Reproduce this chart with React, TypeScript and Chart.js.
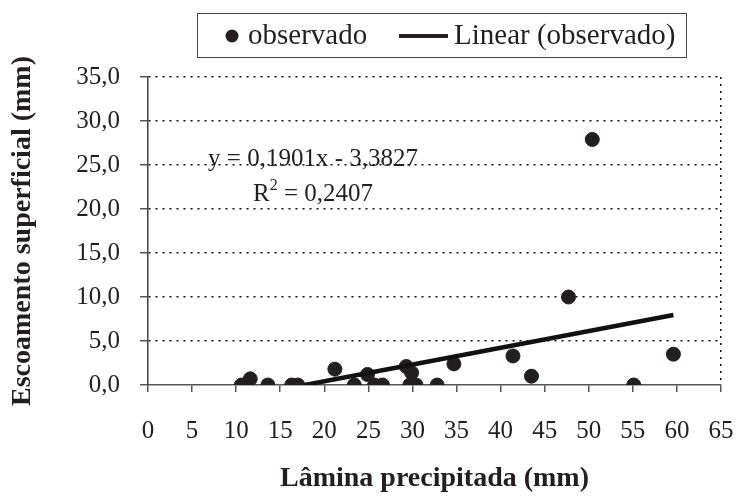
import React, { useEffect, useRef } from "react";
import { Chart, registerables } from "chart.js";

Chart.register(...registerables);

// Observed data: Lâmina precipitada (mm) vs Escoamento superficial (mm)
const laminaPrecipitada = [10.6, 11.6, 13.6, 16.3, 17.0, 21.2, 23.4, 24.9, 25.7, 26.6, 29.3, 29.9, 29.7, 30.4, 32.8, 34.7, 41.4, 43.5, 47.7, 50.4, 55.1, 59.6];
const escoamento = [0.0, 0.7, 0.0, 0.0, 0.0, 1.8, 0.0, 1.2, 0.0, 0.0, 2.1, 1.4, 0.0, 0.0, 0.0, 2.4, 3.3, 1.0, 10.0, 27.9, 0.0, 3.5];

// Linear trendline shown on chart
const trendSlope = 0.1901;
const trendIntercept = -3.3827;
const equationText = "y = 0,1901x - 3,3827";
const r2Value = "0,2407";

const xTicks = [0, 5, 10, 15, 20, 25, 30, 35, 40, 45, 50, 55, 60, 65];
const yTicks = [0, 5, 10, 15, 20, 25, 30, 35];

const seriesLabel = "observado";
const trendLabel = "Linear (observado)";
const xTitle = "Lâmina precipitada (mm)";
const yTitle = "Escoamento superficial (mm)";

const FONT = "'Liberation Serif', 'Times New Roman', serif";
const INK = "#231f20";

export default function App() {
  const ref = useRef<HTMLCanvasElement | null>(null);

  useEffect(() => {
    document.body.style.margin = "0";
    const canvas = ref.current;
    if (!canvas) return;

    const xStart = -trendIntercept / trendSlope;
    const xEnd = Math.max(...laminaPrecipitada);
    const trendData = [
      { x: xStart, y: trendSlope * xStart + trendIntercept },
      { x: xEnd, y: trendSlope * xEnd + trendIntercept },
    ];

    const overlay = {
      id: "overlay",
      afterDraw(chart: any) {
        const ctx = chart.ctx;
        ctx.save();
        // legend box
        const bx = 197, by = 13, bw = 489, bh = 44;
        ctx.strokeStyle = "#444";
        ctx.lineWidth = 1;
        ctx.strokeRect(bx + 0.5, by + 0.5, bw, bh);
        const cy = by + bh / 2;
        ctx.fillStyle = INK;
        ctx.beginPath();
        ctx.arc(232, cy + 1, 6.5, 0, Math.PI * 2);
        ctx.fill();
        ctx.font = `29px ${FONT}`;
        ctx.textBaseline = "middle";
        ctx.textAlign = "left";
        ctx.fillText(seriesLabel, 248, cy + 1);
        ctx.strokeStyle = INK;
        ctx.lineWidth = 4;
        ctx.beginPath();
        ctx.moveTo(399, cy + 1);
        ctx.lineTo(448, cy + 1);
        ctx.stroke();
        ctx.fillText(trendLabel, 454, cy + 1);

        // equation (centered block)
        const ys = chart.scales.y;
        const cx = 313;
        ctx.font = `25px ${FONT}`;
        ctx.textBaseline = "alphabetic";
        ctx.textAlign = "center";
        ctx.fillText(equationText, cx, ys.getPixelForValue(24.9));
        const ry = ys.getPixelForValue(20.9);
        ctx.textAlign = "left";
        const wR = ctx.measureText("R").width;
        const wRest = ctx.measureText(" = " + r2Value).width;
        ctx.font = `16px ${FONT}`;
        const w2 = ctx.measureText("2").width;
        const total = wR + w2 + wRest;
        let px = cx - total / 2;
        ctx.font = `25px ${FONT}`;
        ctx.fillText("R", px, ry);
        px += wR;
        ctx.font = `16px ${FONT}`;
        ctx.fillText("2", px, ry - 11);
        px += w2;
        ctx.font = `25px ${FONT}`;
        ctx.fillText(" = " + r2Value, px, ry);
        ctx.restore();
      },
    };

    const chart = new Chart(canvas, {
      type: "scatter",
      data: {
        datasets: [
          {
            label: seriesLabel,
            data: laminaPrecipitada.map((x, i) => ({ x, y: escoamento[i] })),
            backgroundColor: INK,
            borderColor: INK,
            pointRadius: 7,
            pointHoverRadius: 7,
            order: 2,
          },
          {
            type: "line",
            label: trendLabel,
            data: trendData,
            borderColor: "#111",
            borderWidth: 4.5,
            pointRadius: 0,
            fill: false,
            order: 1,
          } as any,
        ],
      },
      options: {
        animation: false,
        responsive: false,
        devicePixelRatio: 1,
        layout: { padding: { top: 77, right: 15, left: 0, bottom: 0 } },
        plugins: {
          legend: { display: false },
          tooltip: { enabled: false },
        },
        scales: {
          x: {
            type: "linear",
            min: 0,
            max: 65,
            afterBuildTicks: (s: any) => {
              s.ticks = xTicks.map((v) => ({ value: v }));
            },
            afterFit: (s: any) => {
              s.height = 114;
              s.paddingRight = 0;
              s.paddingLeft = 0;
            },
            ticks: {
              color: INK,
              font: { family: FONT, size: 25 },
              padding: 24,
              maxRotation: 0,
              autoSkip: false,
            },
            grid: {
              color: (c: any) => (c.tick && c.tick.value === 65 ? "#111" : "rgba(0,0,0,0)"),
              tickColor: "#555",
              tickLength: 7,
              lineWidth: 1.5,
              tickBorderDash: [],
            },
            border: { display: true, color: "#555", width: 1.5, dash: [2, 5] },
            title: {
              display: true,
              text: xTitle,
              color: INK,
              font: { family: FONT, size: 28, weight: "bold" },
              padding: { top: 0, bottom: 3 },
            },
          },
          y: {
            type: "linear",
            min: 0,
            max: 35,
            afterBuildTicks: (s: any) => {
              s.ticks = yTicks.map((v) => ({ value: v }));
            },
            afterFit: (s: any) => {
              s.width = 148;
            },
            ticks: {
              color: INK,
              font: { family: FONT, size: 25 },
              padding: 20,
              callback: (v: any) => Number(v).toFixed(1).replace(".", ","),
            },
            grid: {
              color: (c: any) => (c.tick && c.tick.value === 0 ? "rgba(0,0,0,0)" : "#111"),
              tickColor: "#555",
              tickLength: 8,
              lineWidth: 1.5,
              tickBorderDash: [],
            },
            border: { display: true, color: "#444", width: 1.5, dash: [2, 5] },
            title: {
              display: true,
              text: yTitle,
              color: INK,
              font: { family: FONT, size: 28, weight: "bold" },
              padding: { top: 6, bottom: 0 },
            },
          },
        },
      },
      plugins: [overlay],
    });

    return () => chart.destroy();
  }, []);

  return (
    <div style={{ width: 736, height: 499 }}>
      <canvas ref={ref} width={736} height={499} style={{ display: "block" }} />
    </div>
  );
}
